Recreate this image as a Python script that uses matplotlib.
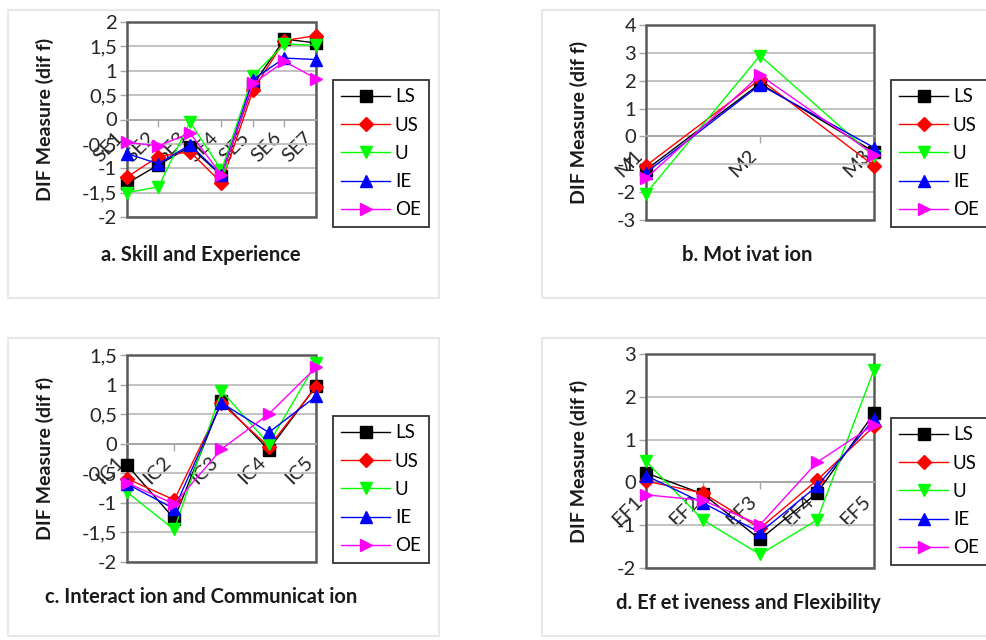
import matplotlib
matplotlib.use('Agg')
import matplotlib.pyplot as plt
from matplotlib.ticker import MultipleLocator, FuncFormatter
from matplotlib.patches import Rectangle

plt.rcParams['font.family'] = ['Lato', 'DejaVu Sans']

# ---------------- data ----------------
series_names = ['LS', 'US', 'U', 'IE', 'OE']
series_colors = ['#000000', '#ff0000', '#00ff00', '#0000ff', '#ff00ff']
series_markers = ['s', 'D', 'v', '^', '>']
marker_sizes = [9, 7, 9, 9, 9]

se_cats = ['SE1', 'SE2', 'SE3', 'SE4', 'SE5', 'SE6', 'SE7']
se_LS = [-1.31, -0.93, -0.56, -1.15, 0.71, 1.65, 1.57]
se_US = [-1.18, -0.76, -0.66, -1.30, 0.60, 1.62, 1.72]
se_U = [-1.50, -1.38, -0.05, -1.04, 0.90, 1.55, 1.52]
se_IE = [-0.70, -0.91, -0.52, -1.14, 0.82, 1.26, 1.23]
se_OE = [-0.47, -0.54, -0.28, -1.14, 0.74, 1.19, 0.84]

m_cats = ['M1', 'M2', 'M3']
m_LS = [-1.20, 1.90, -0.55]
m_US = [-1.05, 2.05, -1.05]
m_U = [-2.05, 2.90, -0.72]
m_IE = [-1.30, 1.85, -0.40]
m_OE = [-1.50, 2.20, -0.65]

ic_cats = ['IC1', 'IC2', 'IC3', 'IC4', 'IC5']
ic_LS = [-0.36, -1.27, 0.72, -0.10, 0.97]
ic_US = [-0.59, -0.95, 0.68, -0.05, 0.96]
ic_U = [-0.82, -1.45, 0.89, 0.00, 1.36]
ic_IE = [-0.68, -1.10, 0.69, 0.19, 0.80]
ic_OE = [-0.66, -1.02, -0.09, 0.50, 1.29]

ef_cats = ['EF1', 'EF2', 'EF3', 'EF4', 'EF5']
ef_LS = [0.22, -0.27, -1.33, -0.25, 1.61]
ef_US = [0.03, -0.25, -1.07, 0.05, 1.31]
ef_U = [0.49, -0.88, -1.68, -0.88, 2.63]
ef_IE = [0.16, -0.48, -1.17, -0.09, 1.47]
ef_OE = [-0.29, -0.42, -0.99, 0.47, 1.35]

titles = ['a. Skill and Experience', 'b. Mot ivat ion',
          'c. Interact ion and Communicat ion', 'd. Ef et iveness and Flexibility']
ylabel = 'DIF Measure (dif f)'

# ---------------- layout ----------------
W, H = 987, 640
fig = plt.figure(figsize=(W / 100, H / 100), dpi=100)
fig.patch.set_facecolor('white')


def frect(x0, y0, x1, y1):
    return [x0 / W, 1 - y1 / H, (x1 - x0) / W, (y1 - y0) / H]


def fmt(v, pos):
    return ('%g' % round(v, 2)).replace('.', ',')


# panel borders
for (x0, y0, x1, y1) in [(8, 10, 439, 298), (542, 10, 1000, 298),
                         (8, 338, 439, 636), (542, 338, 1000, 636)]:
    fig.add_artist(Rectangle((x0 / W, 1 - y1 / H), (x1 - x0) / W, (y1 - y0) / H,
                             transform=fig.transFigure, fill=False,
                             ec='#e8e8e8', lw=1.5))

panels = [
    dict(cats=se_cats, data=[se_LS, se_US, se_U, se_IE, se_OE], ylim=(-2, 2), step=0.5,
         rect=(127, 22, 316, 217), ylx=54, title_xy=(201, 255), leg=(333, 80)),
    dict(cats=m_cats, data=[m_LS, m_US, m_U, m_IE, m_OE], ylim=(-3, 4), step=1,
         rect=(646, 25, 874, 220), ylx=588, title_xy=(747, 255), leg=(891, 80)),
    dict(cats=ic_cats, data=[ic_LS, ic_US, ic_U, ic_IE, ic_OE], ylim=(-2, 1.5), step=0.5,
         rect=(127, 355, 316, 562), ylx=54, title_xy=(201, 597), leg=(333, 416)),
    dict(cats=ef_cats, data=[ef_LS, ef_US, ef_U, ef_IE, ef_OE], ylim=(-2, 3), step=1,
         rect=(646, 354, 874, 568), ylx=588, title_xy=(748, 603), leg=(891, 418)),
]

for p, title in zip(panels, titles):
    x0, y0, x1, y1 = p['rect']
    ax = fig.add_axes(frect(x0, y0, x1, y1))
    n = len(p['cats'])
    xs = list(range(n))
    for vals, name, c, m, ms in zip(p['data'], series_names, series_colors,
                                    series_markers, marker_sizes):
        ax.plot(xs, vals, color=c, lw=1.0, marker=m, ms=ms, mfc=c, mec=c,
                label=name, zorder=3, clip_on=False)
    ax.set_xlim(0, n - 1)
    ax.set_ylim(*p['ylim'])
    ax.yaxis.set_major_locator(MultipleLocator(p['step']))
    ax.yaxis.set_major_formatter(FuncFormatter(fmt))
    ax.yaxis.grid(True, color='#bdbdbd', lw=1.3, zorder=0)
    ax.set_axisbelow(True)
    for s in ['top', 'right', 'left']:
        ax.spines[s].set_visible(False)
    ax.spines['bottom'].set_position(('data', 0))
    ax.spines['bottom'].set_color('#a6a6a6')
    ax.spines['bottom'].set_linewidth(1.3)
    ax.set_xticks(xs)
    ax.set_xticklabels(p['cats'], rotation=45, ha='right', va='top',
                       fontsize=14.5, color='#262626')
    ax.tick_params(axis='x', direction='out', length=5, width=1.0,
                   color='#a6a6a6', pad=2)
    ax.tick_params(axis='y', direction='out', length=5, width=1.0,
                   color='#a6a6a6', labelsize=14.5, labelcolor='#262626', pad=2)
    ax.add_patch(Rectangle((0, 0), 1, 1, transform=ax.transAxes, fill=False,
                           ec='#595959', lw=1.8, clip_on=False, zorder=2.5))
    ax.set_ylabel(ylabel, fontsize=14, fontweight='bold', color='#1a1a1a')
    ax.yaxis.set_label_coords((p['ylx'] - x0) / (x1 - x0), 0.5)
    fig.text(p['title_xy'][0] / W, 1 - p['title_xy'][1] / H, title,
             ha='center', va='center', fontsize=14.5, fontweight='bold',
             color='#1a1a1a')
    lx, ly = p['leg']
    leg = fig.legend(*ax.get_legend_handles_labels(), loc='upper left',
                     bbox_to_anchor=(lx / W, 1 - ly / H),
                     bbox_transform=fig.transFigure, fontsize=13.5,
                     frameon=True, fancybox=False, framealpha=1,
                     edgecolor='#333333', borderpad=0.45, labelspacing=0.6,
                     handlelength=2.6, handletextpad=0.25, borderaxespad=0)
    leg.get_frame().set_linewidth(1.3)

fig.savefig('out.png', dpi=100, facecolor='white')
